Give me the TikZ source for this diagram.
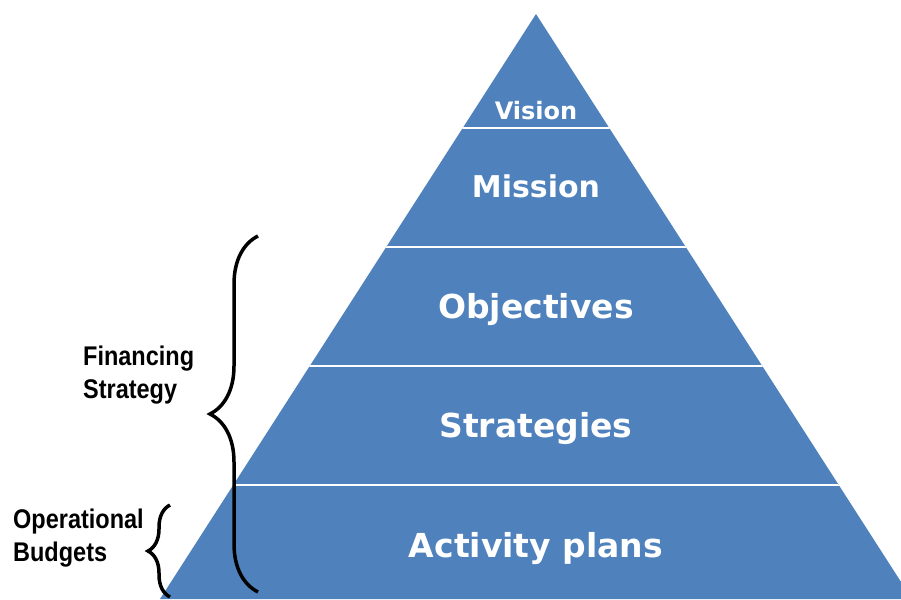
\documentclass[tikz,border=0pt]{standalone}
\usepackage{fontspec}
\newfontfamily\tierfont{DejaVu Sans}
\newfontfamily\sidefont{Liberation Sans}
\usetikzlibrary{decorations.pathreplacing}
\definecolor{tierblue}{HTML}{4F81BD}

\begin{document}
\begin{tikzpicture}[x=1pt, y=-1pt,
  tier/.style={text=white, anchor=base, inner sep=0pt, font=\tierfont\bfseries\fontsize{#1}{#1}\selectfont},
  side/.style={anchor=base west, align=left, inner sep=0pt, xscale=0.87, font=\sidefont\bfseries\fontsize{27}{33}\selectfont},
  bracket/.style={decorate, decoration={brace, amplitude=#1}, line width=3.5pt}]
\useasboundingbox (0,0) rectangle (901,599);

% pyramid and its bands
\begin{scope}
  \clip (0,0) rectangle (901,599);
  \fill[tierblue] (536,14) -- (160,599) -- (912,599) -- cycle;
  \clip (536,14) -- (160,599) -- (912,599) -- cycle;
  \foreach \y in {128,247,366,485}
    \draw[white, line width=2.5pt] (100,\y) -- (901,\y);
\end{scope}

\node[tier=24] (vision) at (536,120) {Vision};
\node[tier=30] (mission) at (536,197) {Mission};
\node[tier=33] (objectives) at (536,318) {Objectives};
\node[tier=33] (strategies) at (536,437) {Strategies};
\node[tier=33] (plans) at (536,557) {Activity plans};

% side labels
\coordinate (fin top) at (258,236);
\coordinate (fin bot) at (258,592);
\coordinate (ops top) at (170,505);
\coordinate (ops bot) at (170,597);

\draw[bracket=48] (fin bot) -- (fin top);
\draw[bracket=22] (ops bot) -- (ops top);

\node[side] (financing) at (83,398) {Financing\\Strategy};
\node[side] (operational) at (13,561) {Operational\\Budgets};
\end{tikzpicture}
\end{document}
